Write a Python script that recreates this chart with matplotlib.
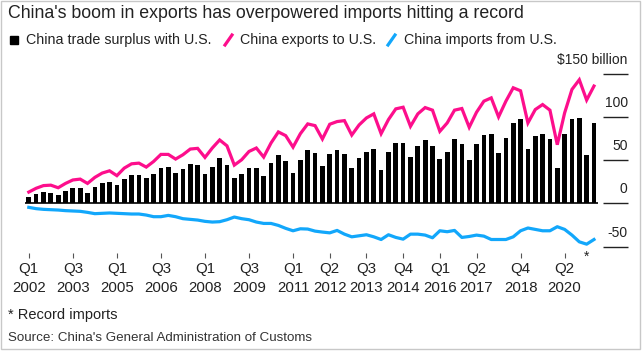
import matplotlib
matplotlib.use("Agg")
import matplotlib.pyplot as plt
from matplotlib.lines import Line2D
from matplotlib.patches import Rectangle

plt.rcParams['font.family'] = ['Liberation Sans', 'DejaVu Sans']

# quarterly values, Q1 2002 .. Q2 2021 ($ billion)
surplus = [7.4, 10.5, 12.8, 11.6, 9.7, 14, 17.4, 17.4, 11.6, 18.6,
           23.3, 25.2, 20.9, 27.9, 32.2, 32.2, 29, 33.7, 40.7, 41.5,
           34.9, 39.5, 45.3, 44.2, 33.7, 41.5, 51.9, 44.2, 29.5, 33.7,
           40.7, 40.7, 31.4, 46.1, 55.4, 48.4, 34.9, 50, 61.2, 57.8,
           42.6, 57.6, 61.2, 57.4, 40.7, 51.9, 59.7, 63.2, 38.4, 58.9,
           70.2, 70.2, 53.1, 66.7, 73.6, 66.7, 50.8, 59.7, 74.8, 69,
           49.6, 69, 79.1, 80.6, 58.5, 76, 93, 97.7, 62.4, 78.3,
           80.6, 74.8, 40.7, 80.6, 97.7, 98.8, 55.4, 93.4]
exports = [13, 17.4, 20.5, 21, 18, 23, 27, 28, 23, 30,
           35, 37.6, 32, 40.7, 45.7, 46.5, 41.9, 48.4, 56.6, 56.6,
           51.2, 56.2, 62.8, 63.6, 53.1, 64, 73.3, 66.5, 44.2, 50.4,
           60, 64, 53.5, 69.8, 82.6, 78.3, 65, 80.6, 91.9, 89.9,
           74.4, 91.5, 94.6, 95.7, 79, 90.7, 98.8, 103.5, 80.6, 96.9,
           109.3, 111.2, 89.1, 103.5, 110.8, 107.8, 83.3, 93, 107.8, 109.7,
           88, 105.4, 118.2, 122, 100, 118.2, 133.7, 130.2, 93, 108.5,
           114.3, 107.8, 67.8, 104.6, 131.8, 143, 119.5, 135.7]
imports = [-4.7, -6.2, -7, -7.4, -7.8, -8.5, -8.9, -9.3, -10.5, -12,
           -11.6, -11.2, -11.6, -12, -12.4, -12.4, -13.6, -15.5, -15.5, -14,
           -15.5, -17.8, -18.6, -19.4, -20.9, -21.7, -21.3, -19, -15.9, -17.8,
           -19, -21.7, -23.3, -23.3, -25.6, -29, -31.8, -29.5, -29.8, -32.2,
           -33.3, -34.2, -31.4, -35.7, -38.8, -37.6, -36.4, -38.8, -41.9, -36.4,
           -39.5, -41.5, -35.7, -35.7, -36.8, -39.9, -31.8, -32.9, -31.4, -39.5,
           -38.4, -36.8, -38, -41.9, -41.9, -41.9, -38.8, -31.8, -28.6, -30.2,
           -31.8, -31.8, -27.1, -30.2, -36.8, -44.6, -47.3, -41.9]

tick_pos = [0, 6, 12, 18, 24, 30, 36, 41, 46, 51, 56, 61, 67, 73]
tick_labels = ["Q1\n2002", "Q3\n2003", "Q1\n2005", "Q3\n2006", "Q1\n2008",
               "Q3\n2009", "Q1\n2011", "Q2\n2012", "Q3\n2013", "Q4\n2014",
               "Q1\n2016", "Q2\n2017", "Q4\n2018", "Q2\n2020"]
y_levels = [150, 100, 50, 0, -50]
y_labels = ["$150 billion", "100", "50", "0", "-50"]
record_idx = 76

PINK = "#fd0e8c"
BLUE = "#12a7fb"
W, H = 644, 355

def fx(x):
    return x / W

def fy(y):
    return 1 - y / H

fig = plt.figure(figsize=(6.44, 3.55), dpi=100)

# plot area: index -> px = 28.8 + 7.34*i ; value -> px = 203.3 - 0.864*v
step, x0 = 7.34, 28.8
yscale, y0 = 0.864, 203.3
top_px, bot_px = 50, 253
ax = fig.add_axes([0, fy(bot_px), 1, (bot_px - top_px) / H])
ax.set_xlim(-x0 / step, (W - x0) / step)
ax.set_ylim((y0 - bot_px) / yscale, (y0 - top_px) / yscale)
for s in ax.spines.values():
    s.set_visible(False)
ax.patch.set_alpha(0)

n = len(surplus)
idx = list(range(n))
ax.bar(idx, surplus, width=0.64, color="black", zorder=2)
ax.hlines(0, -0.5, n - 0.5, color="black", lw=1.2, zorder=2)
ax.plot(idx, exports, color=PINK, lw=2.3, solid_joinstyle="miter", zorder=3)
ax.plot(idx, imports, color=BLUE, lw=2.3, zorder=3)
ax.annotate("*", (record_idx, imports[record_idx]), xytext=(0, -9),
            textcoords="offset points", ha="center", va="center",
            fontsize=10, color="#222")

# right-hand value scale
g0, g1 = (603.3 - x0) / step, (627.7 - x0) / step
ax.hlines(y_levels, g0, g1, color="#222", lw=1)
for v, lab in zip(y_levels, y_labels):
    ax.annotate(lab, (g1, v), xytext=(0, 5), textcoords="offset points",
                ha="right", va="bottom", fontsize=10, color="#222")

ax.set_yticks([])
ax.set_xticks(tick_pos)
ax.set_xticklabels(tick_labels, fontsize=10.8, color="#222")
ax.tick_params(axis="x", length=3.6, width=0.8, color="#555", pad=3)
for t in ax.get_xticklabels():
    t.set_linespacing(1.45)

# title and legend
fig.text(fx(8), fy(14), "China's boom in exports has overpowered imports hitting a record",
         fontsize=12.8, color="#222", va="center", ha="left")
fig.patches.append(Rectangle((fx(10), fy(44)), fx(8), 8 / H, color="black",
                             transform=fig.transFigure, figure=fig))
fig.text(fx(26), fy(40), "China trade surplus with U.S.", fontsize=10.3,
         color="#222", va="center")
fig.lines.append(Line2D([fx(225), fx(232)], [fy(45), fy(35)], color=PINK, lw=2.3,
                        transform=fig.transFigure, figure=fig))
fig.text(fx(240), fy(40), "China exports to U.S.", fontsize=10.3,
         color="#222", va="center")
fig.lines.append(Line2D([fx(388), fx(395)], [fy(45), fy(35)], color=BLUE, lw=2.3,
                        transform=fig.transFigure, figure=fig))
fig.text(fx(404), fy(40), "China imports from U.S.", fontsize=10.3,
         color="#222", va="center")

# footnotes
fig.text(fx(8), fy(315), "* Record imports", fontsize=10.5, color="#222", va="center")
fig.text(fx(8), fy(338), "Source: China's General Administration of Customs",
         fontsize=9.6, color="#333", va="center")

# thin frame
fig.patches.append(Rectangle((fx(1), fy(349)), fx(639), (348) / H, fill=False,
                             edgecolor="#c8c8c8", lw=1,
                             transform=fig.transFigure, figure=fig))

fig.savefig("out.png", dpi=100)
